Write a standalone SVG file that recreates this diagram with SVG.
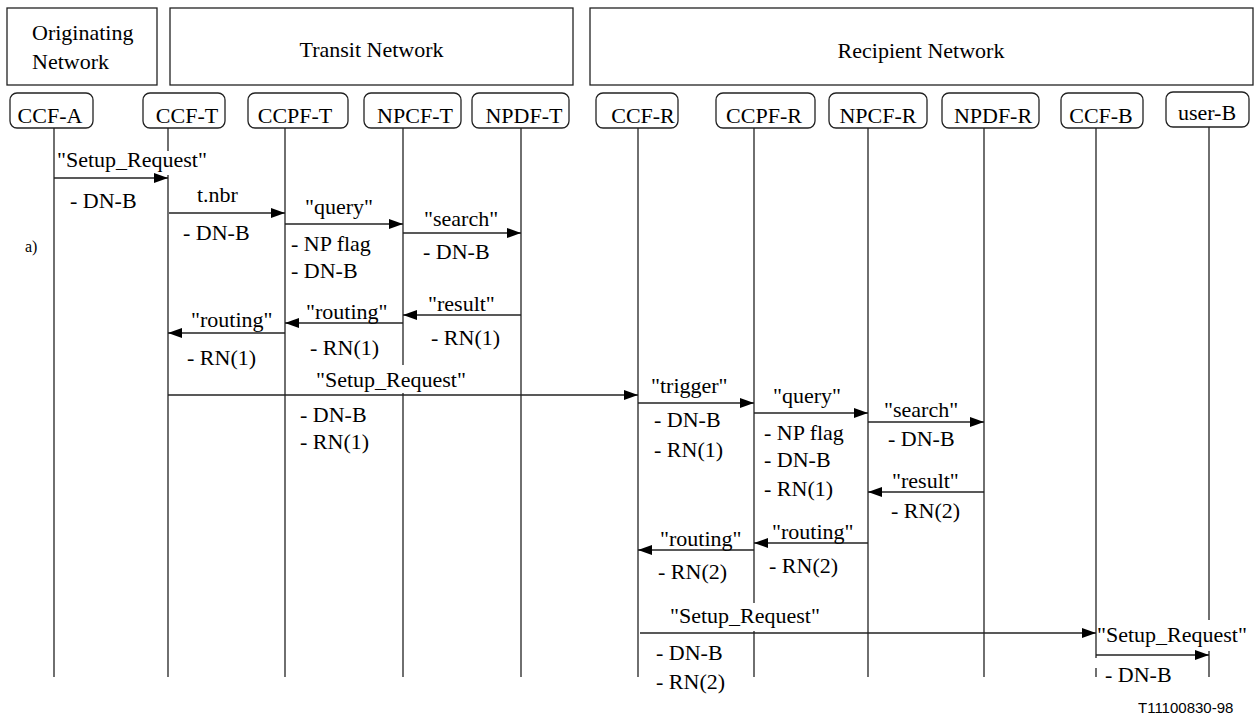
<svg xmlns="http://www.w3.org/2000/svg" width="1256" height="718" viewBox="0 0 1256 718">
<style>
  text { font-family: "Liberation Serif", "Times New Roman", serif; font-size: 22px; fill: #000; }
  .hdr { fill: #fff; stroke: #222; stroke-width: 1.3; }
  .box { fill: #fff; stroke: #222; stroke-width: 1.3; }
  .life { stroke: #222; stroke-width: 1.3; fill: none; }
  .msg { stroke: #222; stroke-width: 1.4; fill: none; marker-end: url(#ah); }
  .bg { fill: #fff; stroke: none; }
  .mid { text-anchor: middle; }
  .small { font-size: 16px; }
  .ref { font-family: "Liberation Sans", Arial, sans-serif; font-size: 15px; }
</style>
<defs>
  <marker id="ah" markerUnits="userSpaceOnUse" markerWidth="14" markerHeight="10" refX="14" refY="5" orient="auto">
    <path d="M0,0 L14,5 L0,10 z" fill="#000"/>
  </marker>
</defs>
<rect width="1256" height="718" fill="#fff"/>

<g id="net-originating">
  <rect class="hdr" x="7" y="8" width="150" height="77"/>
  <text x="32" y="40">Originating</text>
  <text x="32" y="69">Network</text>
</g>
<g id="net-transit">
  <rect class="hdr" x="170" y="8" width="403" height="77"/>
  <text class="mid" x="371.5" y="57">Transit Network</text>
</g>
<g id="net-recipient">
  <rect class="hdr" x="590" y="8" width="663" height="77"/>
  <text class="mid" x="921" y="58">Recipient Network</text>
</g>

<g id="ccf-a">
  <rect class="box" x="10" y="93" width="83" height="35" rx="7"/>
  <text class="mid" x="50" y="123">CCF-A</text>
  <line class="life" x1="54" y1="128" x2="54" y2="677"/>
</g>
<g id="ccf-t">
  <rect class="box" x="143" y="93" width="82" height="35" rx="7"/>
  <text class="mid" x="187" y="123">CCF-T</text>
  <line class="life" x1="168" y1="128" x2="168" y2="677"/>
</g>
<g id="ccpf-t">
  <rect class="box" x="248" y="93" width="100" height="35" rx="7"/>
  <text class="mid" x="295" y="123">CCPF-T</text>
  <line class="life" x1="285" y1="128" x2="285" y2="677"/>
</g>
<g id="npcf-t">
  <rect class="box" x="364" y="93" width="97" height="35" rx="7"/>
  <text class="mid" x="415" y="123">NPCF-T</text>
  <line class="life" x1="403" y1="128" x2="403" y2="677"/>
</g>
<g id="npdf-t">
  <rect class="box" x="472" y="93" width="97" height="35" rx="7"/>
  <text class="mid" x="524" y="123">NPDF-T</text>
  <line class="life" x1="521" y1="128" x2="521" y2="677"/>
</g>
<g id="ccf-r">
  <rect class="box" x="596" y="93" width="82" height="35" rx="7"/>
  <text class="mid" x="643" y="123">CCF-R</text>
  <line class="life" x1="638" y1="128" x2="638" y2="677"/>
</g>
<g id="ccpf-r">
  <rect class="box" x="716" y="93" width="99" height="35" rx="7"/>
  <text class="mid" x="764" y="123">CCPF-R</text>
  <line class="life" x1="754" y1="128" x2="754" y2="677"/>
</g>
<g id="npcf-r">
  <rect class="box" x="829" y="93" width="98" height="35" rx="7"/>
  <text class="mid" x="878" y="123">NPCF-R</text>
  <line class="life" x1="868" y1="128" x2="868" y2="677"/>
</g>
<g id="npdf-r">
  <rect class="box" x="942" y="93" width="97" height="35" rx="7"/>
  <text class="mid" x="993" y="123">NPDF-R</text>
  <line class="life" x1="984" y1="128" x2="984" y2="677"/>
</g>
<g id="ccf-b">
  <rect class="box" x="1061" y="93" width="82" height="35" rx="7"/>
  <text class="mid" x="1101" y="123">CCF-B</text>
  <line class="life" x1="1096" y1="128" x2="1096" y2="677"/>
</g>
<g id="user-b">
  <rect class="box" x="1166" y="92" width="83" height="35" rx="7"/>
  <text class="mid" x="1207" y="120">user-B</text>
  <line class="life" x1="1209" y1="127" x2="1209" y2="677"/>
</g>

<g id="connectors">
  <g id="m1">
    <rect class="bg" x="56" y="151" width="158" height="24"/>
    <line class="msg" x1="54" y1="178" x2="168" y2="178"/>
    <text x="57" y="167">"Setup_Request"</text>
    <text x="70" y="208">- DN-B</text>
  </g>
  <g id="m2">
    <line class="msg" x1="169" y1="213" x2="285" y2="213"/>
    <text x="197" y="202">t.nbr</text>
    <text x="183" y="240">- DN-B</text>
  </g>
  <g id="m3">
    <line class="msg" x1="285" y1="224" x2="403" y2="224"/>
    <text x="305" y="214">"query"</text>
    <text x="291" y="251">- NP flag</text>
    <text x="291" y="278">- DN-B</text>
  </g>
  <g id="m4">
    <line class="msg" x1="403" y1="233" x2="521" y2="233"/>
    <text x="424" y="226">"search"</text>
    <text x="423" y="259">- DN-B</text>
  </g>
  <g id="m5">
    <line class="msg" x1="521" y1="315" x2="403" y2="315"/>
    <text x="428" y="311">"result"</text>
    <text x="431" y="345">- RN(1)</text>
  </g>
  <g id="m6">
    <line class="msg" x1="403" y1="323" x2="285" y2="323"/>
    <text x="306" y="319">"routing"</text>
    <text x="310" y="355">- RN(1)</text>
  </g>
  <g id="m7">
    <line class="msg" x1="285" y1="333" x2="168" y2="333"/>
    <text x="191" y="327">"routing"</text>
    <text x="187" y="365">- RN(1)</text>
  </g>
  <g id="m8">
    <rect class="bg" x="313" y="365" width="156" height="28"/>
    <line class="msg" x1="168" y1="395" x2="638" y2="395"/>
    <text x="316" y="387">"Setup_Request"</text>
    <text x="300" y="422">- DN-B</text>
    <text x="300" y="449">- RN(1)</text>
  </g>
  <g id="m9">
    <line class="msg" x1="638" y1="403" x2="754" y2="403"/>
    <text x="651" y="393">"trigger"</text>
    <text x="654" y="427">- DN-B</text>
    <text x="654" y="457">- RN(1)</text>
  </g>
  <g id="m10">
    <line class="msg" x1="754" y1="413" x2="868" y2="413"/>
    <text x="773" y="403">"query"</text>
    <text x="764" y="440">- NP flag</text>
    <text x="764" y="467">- DN-B</text>
    <text x="764" y="496">- RN(1)</text>
  </g>
  <g id="m11">
    <line class="msg" x1="868" y1="422" x2="984" y2="422"/>
    <text x="884" y="417">"search"</text>
    <text x="888" y="446">- DN-B</text>
  </g>
  <g id="m12">
    <line class="msg" x1="984" y1="492" x2="868" y2="492"/>
    <text x="892" y="488">"result"</text>
    <text x="891" y="518">- RN(2)</text>
  </g>
  <g id="m13">
    <line class="msg" x1="868" y1="543" x2="754" y2="543"/>
    <text x="772" y="539">"routing"</text>
    <text x="769" y="573">- RN(2)</text>
  </g>
  <g id="m14">
    <line class="msg" x1="754" y1="550" x2="638" y2="550"/>
    <text x="660" y="546">"routing"</text>
    <text x="658" y="579">- RN(2)</text>
  </g>
  <g id="m15">
    <rect class="bg" x="667" y="603" width="160" height="28"/>
    <line class="msg" x1="640" y1="633" x2="1096" y2="633"/>
    <text x="670" y="623">"Setup_Request"</text>
    <text x="656" y="660">- DN-B</text>
    <text x="656" y="689">- RN(2)</text>
  </g>
  <g id="m16">
    <rect class="bg" x="1098" y="620" width="156" height="31"/>
    <line class="msg" x1="1096" y1="655" x2="1209" y2="655"/>
    <text x="1097" y="642">"Setup_Request"</text>
    <rect class="bg" x="1094" y="658" width="4" height="10"/>
    <text x="1105" y="682">- DN-B</text>
  </g>
</g>

<text class="small" x="25" y="252">a)</text>
<text class="ref" x="1138" y="713">T11100830-98</text>
</svg>
